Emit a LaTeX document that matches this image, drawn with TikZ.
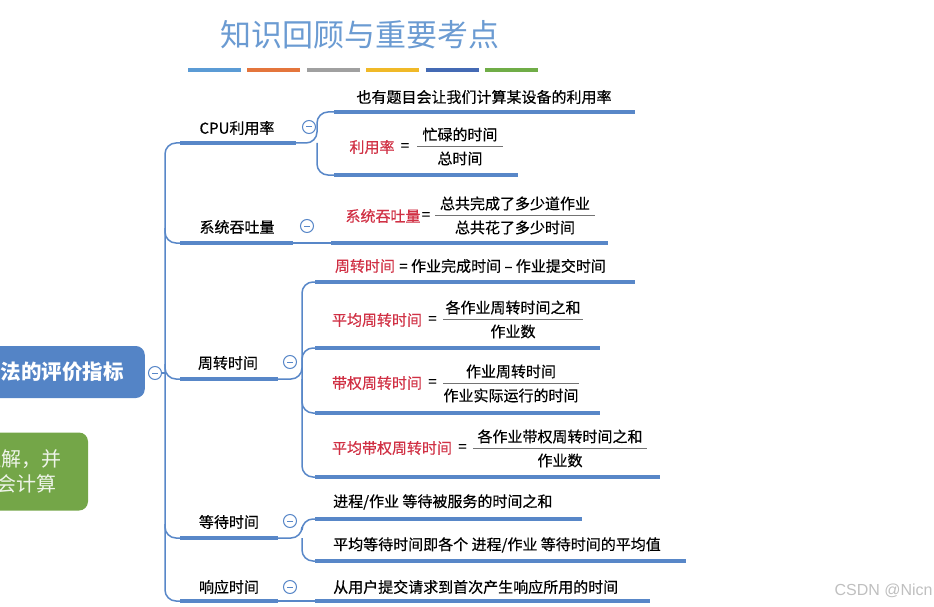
\documentclass[tikz,border=0pt]{standalone}
\usepackage{fontspec}
\setmainfont{Noto Sans CJK SC}
\newfontfamily\medfont{Noto Sans CJK SC}[FakeBold=0.5,Ligatures=TeX]
\newfontfamily\markfont{Liberation Sans}
\usetikzlibrary{positioning}

\definecolor{linec}{RGB}{88,135,200}
\definecolor{titlec}{RGB}{107,155,210}
\definecolor{redc}{RGB}{208,48,68}
\definecolor{rootc}{RGB}{84,132,198}
\definecolor{notec}{RGB}{116,166,72}
\definecolor{barA}{RGB}{91,155,213}
\definecolor{barB}{RGB}{228,117,60}
\definecolor{barC}{RGB}{160,160,160}
\definecolor{barD}{RGB}{240,185,40}
\definecolor{barE}{RGB}{68,106,180}
\definecolor{barF}{RGB}{112,173,71}

% fraction: name, x, y of rule, half width, numerator, denominator
\newcommand\fracat[6]{%
  \node[leaf] (#1n) at (#2,#3-11.5) {#5};
  \node[leaf] (#1d) at (#2,#3+12.5) {#6};
  \draw[fracline] (#2-#4,#3) -- (#2+#4,#3);}

\begin{document}
\begin{tikzpicture}[x=1pt,y=-1pt,
  uline/.style={line width=3.6pt,linec},
  conn/.style={line width=1.5pt,linec,rounded corners=11pt},
  leaf/.style={font=\fontsize{15}{18}\selectfont\medfont,inner sep=0pt},
  branch/.style={leaf},
  redlbl/.style={leaf,text=redc},
  fracline/.style={line width=0.9pt,black!55},
  minus/.style={circle,draw=linec,line width=1pt,fill=white,minimum size=13pt,inner sep=0pt,
    path picture={\draw[linec,line width=1pt] ([xshift=-3pt]path picture bounding box.center) -- ([xshift=3pt]path picture bounding box.center);}},
  ]
\useasboundingbox (0,0) rectangle (934,607);
\clip (0,0) rectangle (934,607);

% title and colour bars
\node[font=\fontsize{31}{36}\selectfont,text=titlec] (ttl) at (360,35) {知识回顾与重要考点};
\foreach \c [count=\i from 0] in {barA,barB,barC,barD,barE,barF}
  \draw[line width=4pt,\c] ({188+\i*59.4},70) -- ++(53,0);

% left boxes
\node[rounded corners=9pt,fill=rootc,text=white,font=\fontsize{20.5}{24}\selectfont\bfseries,
  minimum height=52pt,inner xsep=21pt,anchor=east] (root) at (145,372) {调度算法的评价指标};
\node[minus] (rootm) at (155,373) {};
\node[rounded corners=9pt,fill=notec,text=white!88!notec,font=\fontsize{20}{24.5}\selectfont,
  align=center,minimum width=122pt,minimum height=78pt] (note) at (27,471.5) {\hspace*{-12pt}理解，并\\会计算};

% branches
\node[branch] (cpu) at (237,128) {CPU利用率};
\node[branch] (sys) at (237,227) {系统吞吐量};
\node[branch] (tat) at (228,363) {周转时间};
\node[branch] (wait) at (229,522) {等待时间};
\node[branch] (resp) at (229,587) {响应时间};
\node[minus] (cpum) at (309,127) {};
\node[minus] (sysm) at (307,226) {};
\node[minus] (tatm) at (290,362) {};
\node[minus] (waitm) at (290,521) {};
\node[minus] (respm) at (290,587) {};

\coordinate (cpuA) at (180,143);  \coordinate (cpuB) at (296,143);
\coordinate (sysA) at (180,243);  \coordinate (sysB) at (293,243);
\coordinate (tatA) at (180,379);  \coordinate (tatB) at (278,379);
\coordinate (waitA) at (180,538); \coordinate (waitB) at (278,538);
\coordinate (respA) at (180,601); \coordinate (respB) at (278,601);
\foreach \b in {cpu,sys,tat,wait,resp}
  \draw[uline] (\b A) -- (\b B);

% trunk
\draw[conn] (cpuA) -- (165,143) |- (respA);
\draw[conn] (165,228) |- (sysA);
\draw[conn] (165,364) |- (tatA);
\draw[conn] (165,524) |- (waitA);
\draw[conn] (rootm.east) -- (165,373);

% CPU leaves
\node[leaf] (cpu1) at (484,97) {也有题目会让我们计算某设备的利用率};
\node[redlbl] (cpu2) at (372,147) {利用率};
\node[leaf,right=6pt of cpu2] (cpu2eq) {=};
\fracat{cpu2f}{460}{146}{43}{忙碌的时间}{总时间}
\coordinate (cpu1A) at (334,112); \coordinate (cpu1B) at (635,112);
\coordinate (cpu2A) at (334,175); \coordinate (cpu2B) at (518,175);
\draw[conn] (cpuB) -- (317,143) |- (cpu1A);
\draw[conn] (317,143) |- (cpu2A);

% throughput leaf
\node[redlbl] (sys1) at (383,216) {系统吞吐量};
\node[leaf,right=1pt of sys1] (sys1eq) {=};
\fracat{sys1f}{515}{215}{80}{总共完成了多少道作业}{总共花了多少时间}
\coordinate (sys1A) at (331,243); \coordinate (sys1B) at (608,243);
\draw[conn] (sysB) -- (sys1A);

% turnaround leaves
\node[redlbl] (tat1) at (365,266) {周转时间};
\node[leaf,right=4pt of tat1] (tat1r) {= 作业完成时间 – 作业提交时间};
\node[redlbl] (tat2) at (377,320) {平均周转时间};
\node[leaf,right=6pt of tat2] (tat2eq) {=};
\fracat{tat2f}{513}{319}{70}{各作业周转时间之和}{作业数}
\node[redlbl] (tat3) at (377,383) {带权周转时间};
\node[leaf,right=6pt of tat3] (tat3eq) {=};
\fracat{tat3f}{511}{383}{68}{作业周转时间}{作业实际运行的时间}
\node[redlbl] (tat4) at (392,448) {平均带权周转时间};
\node[leaf,right=6pt of tat4] (tat4eq) {=};
\fracat{tat4f}{560}{448}{87}{各作业带权周转时间之和}{作业数}
\coordinate (tat1A) at (315,282); \coordinate (tat1B) at (635,282);
\coordinate (tat2A) at (315,348); \coordinate (tat2B) at (600,348);
\coordinate (tat3A) at (315,413); \coordinate (tat3B) at (600,413);
\coordinate (tat4A) at (315,477); \coordinate (tat4B) at (660,477);
\draw[conn] (tatB) -- (302,379) |- (tat1A);
\draw[conn] (302,379) |- (tat2A);
\draw[conn] (302,379) |- (tat3A);
\draw[conn] (302,379) |- (tat4A);

% waiting leaves
\node[leaf,anchor=west] (wait1) at (333,502) {进程/作业 等待被服务的时间之和};
\node[leaf,anchor=west] (wait2) at (333,545) {平均等待时间即各个 进程/作业 等待时间的平均值};
\coordinate (wait1A) at (315,519); \coordinate (wait1B) at (582,519);
\coordinate (wait2A) at (315,561); \coordinate (wait2B) at (686,561);
\draw[conn] (waitB) -- (302,538) |- (wait1A);
\draw[conn] (302,538) |- (wait2A);

% response leaf
\node[leaf,anchor=west] (resp1) at (333,587) {从用户提交请求到首次产生响应所用的时间};
\coordinate (resp1A) at (315,601); \coordinate (resp1B) at (650,601);
\draw[conn] (respB) -- (resp1A);

\foreach \l in {cpu1,cpu2,sys1,tat1,tat2,tat3,tat4,wait1,wait2,resp1}
  \draw[uline] (\l A) -- (\l B);

\node[font=\fontsize{16}{18}\selectfont\markfont,text=black!25,anchor=west] (mark) at (831,591) {CSDN @Nicn};
\end{tikzpicture}
\end{document}
